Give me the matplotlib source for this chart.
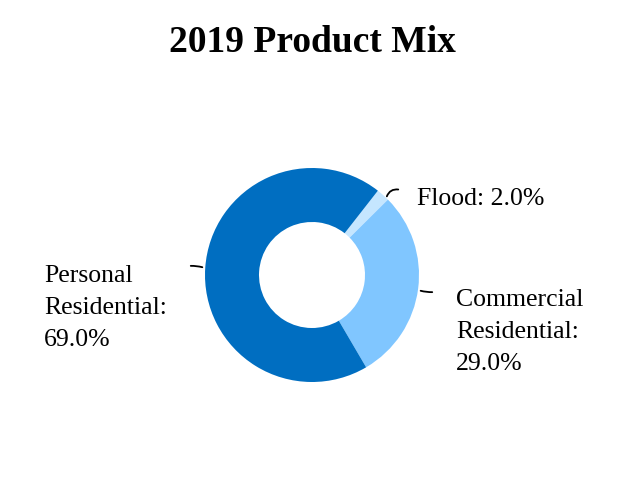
import numpy as np
import matplotlib.pyplot as plt

# product mix for 2019 (percent)
categories = ['Flood', 'Commercial Residential', 'Personal Residential']
shares = [2.0, 29.0, 69.0]
colors = ['#C5E6FF', '#80C6FF', '#006EC1']

plt.rcParams['font.family'] = ['Liberation Serif', 'DejaVu Serif']

fig = plt.figure(figsize=(6.24, 4.8), dpi=100)
ax = fig.add_axes([0, 0, 1, 1])

cx, cy, r = 312, 205, 107
wedges, _ = ax.pie(shares, colors=colors, startangle=52, counterclock=False,
                   center=(cx, cy), radius=r, frame=True,
                   wedgeprops=dict(width=54, linewidth=0))
ax.set_xlim(0, 624)
ax.set_ylim(0, 480)
ax.set_aspect('equal')
ax.axis('off')

fig.text(0.5, 0.912, '2019 Product Mix', ha='center', va='center',
         fontsize=27, fontweight='bold')

def label(cat, val):
    words = cat.split(' ')
    if len(words) == 1:
        return f'{cat}: {val:.1f}%'
    return f'{words[0]}\n{words[1]}:\n{val:.1f}%'

# label anchor (text pos) and leader line from wedge edge
layout = {
    'Flood': dict(xy=(417, 281), line=((386, 281), (401, 290), -0.5)),
    'Commercial Residential': dict(xy=(456, 148), line=((418, 190), (435, 188), 0.1)),
    'Personal Residential': dict(xy=(44, 172), line=((205, 212), (188, 214), 0.1)),
}

for cat, val in zip(categories, shares):
    lay = layout[cat]
    ax.text(lay['xy'][0], lay['xy'][1], label(cat, val), ha='left', va='center',
            fontsize=18.5, linespacing=1.6)
    p0, p1, rad = lay['line']
    ax.annotate('', xy=p1, xytext=p0,
                arrowprops=dict(arrowstyle='-', color='black', lw=1.3,
                                connectionstyle=f'arc3,rad={rad}'))

fig.savefig('out.png', dpi=100)
